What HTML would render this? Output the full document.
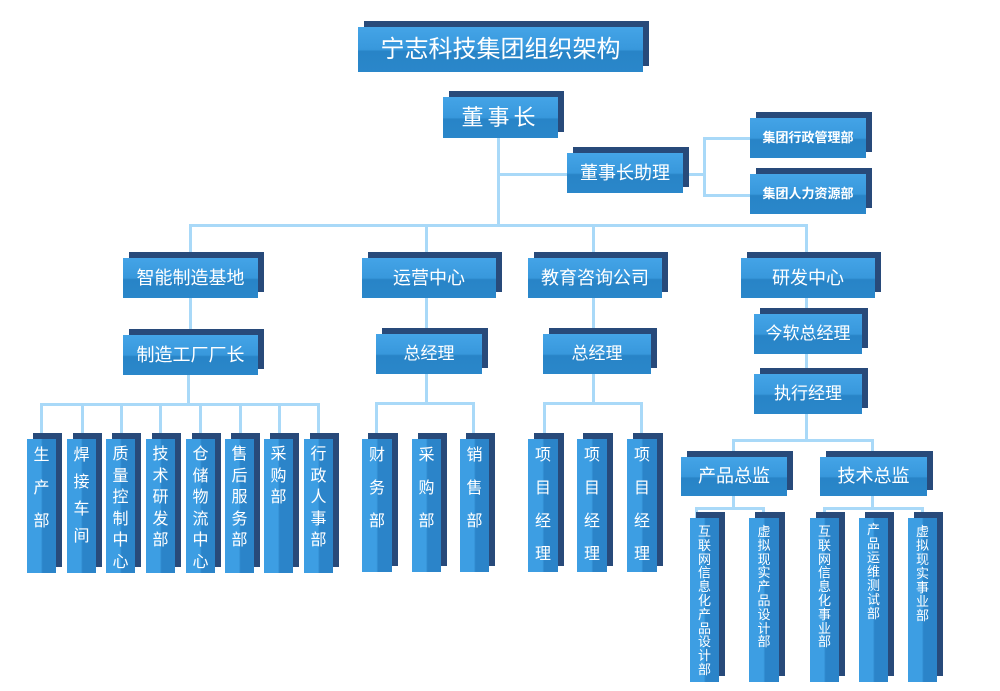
<!DOCTYPE html>
<html><head><meta charset="utf-8"><style>
body{margin:0;width:1000px;height:691px;background:#fff;position:relative;overflow:hidden;font-family:"Liberation Sans","Noto Sans CJK SC",sans-serif;}
.s{position:absolute;background:#284a7a;}
.f{position:absolute;color:#fff;text-align:center;white-space:nowrap;background:linear-gradient(#44a4e7 0%,#3898dc 50%,#2884c7 54%,#2a87ca 100%);}
.v{position:absolute;color:#fff;text-align:center;background:linear-gradient(90deg,#3d9ee3 0%,#3d9ee3 48%,#2b84c9 54%,#2b84c9 100%);font-size:16px;}
.l{position:absolute;background:#a9d9f8;}
</style></head><body>
<!-- connectors -->
<div class="l" style="left:497px;top:138px;width:3px;height:88px"></div>
<div class="l" style="left:498px;top:173px;width:70px;height:3px"></div>
<div class="l" style="left:683px;top:173px;width:22px;height:3px"></div>
<div class="l" style="left:703px;top:138px;width:3px;height:59px"></div>
<div class="l" style="left:703px;top:137px;width:48px;height:3px"></div>
<div class="l" style="left:703px;top:194px;width:48px;height:3px"></div>
<div class="l" style="left:189px;top:224px;width:619px;height:3px"></div>
<div class="l" style="left:189px;top:224px;width:3px;height:112px"></div>
<div class="l" style="left:425px;top:224px;width:3px;height:112px"></div>
<div class="l" style="left:592px;top:224px;width:3px;height:112px"></div>
<div class="l" style="left:805px;top:224px;width:3px;height:217px"></div>
<div class="l" style="left:187px;top:375px;width:3px;height:30px"></div>
<div class="l" style="left:40px;top:403px;width:280px;height:3px"></div>
<div class="l" style="left:425px;top:374px;width:3px;height:30px"></div>
<div class="l" style="left:375px;top:402px;width:100px;height:3px"></div>
<div class="l" style="left:592px;top:374px;width:3px;height:30px"></div>
<div class="l" style="left:543px;top:402px;width:100px;height:3px"></div>
<div class="l" style="left:732px;top:439px;width:142px;height:3px"></div>
<div class="l" style="left:732px;top:439px;width:3px;height:18px"></div>
<div class="l" style="left:871px;top:439px;width:3px;height:18px"></div>
<div class="l" style="left:732px;top:496px;width:3px;height:13px"></div>
<div class="l" style="left:695px;top:507px;width:70px;height:3px"></div>
<div class="l" style="left:871px;top:496px;width:3px;height:13px"></div>
<div class="l" style="left:823px;top:507px;width:101px;height:3px"></div>
<!-- drops -->
<div class="l" style="left:40px;top:403px;width:3px;height:36px"></div>
<div class="l" style="left:81px;top:403px;width:3px;height:36px"></div>
<div class="l" style="left:120px;top:403px;width:3px;height:36px"></div>
<div class="l" style="left:159px;top:403px;width:3px;height:36px"></div>
<div class="l" style="left:199px;top:403px;width:3px;height:36px"></div>
<div class="l" style="left:239px;top:403px;width:3px;height:36px"></div>
<div class="l" style="left:278px;top:403px;width:3px;height:36px"></div>
<div class="l" style="left:317px;top:403px;width:3px;height:36px"></div>
<div class="l" style="left:375px;top:402px;width:3px;height:37px"></div>
<div class="l" style="left:472px;top:402px;width:3px;height:37px"></div>
<div class="l" style="left:543px;top:402px;width:3px;height:37px"></div>
<div class="l" style="left:640px;top:402px;width:3px;height:37px"></div>
<div class="l" style="left:695px;top:507px;width:3px;height:12px"></div>
<div class="l" style="left:762px;top:507px;width:3px;height:12px"></div>
<div class="l" style="left:823px;top:507px;width:3px;height:12px"></div>
<div class="l" style="left:921px;top:507px;width:3px;height:12px"></div>

<!-- title -->
<div class="s" style="left:364px;top:21px;width:285px;height:45px"></div>
<div class="f" style="left:358px;top:27px;width:285px;height:45px;line-height:45px;font-size:24px">宁志科技集团组织架构</div>
<div class="s" style="left:449px;top:91px;width:115px;height:41px"></div>
<div class="f" style="left:443px;top:97px;width:115px;height:41px;line-height:41px;font-size:22px;letter-spacing:4px">董事长</div>
<div class="s" style="left:573px;top:147px;width:116px;height:40px"></div>
<div class="f" style="left:567px;top:153px;width:116px;height:40px;line-height:40px;font-size:18px">董事长助理</div>
<div class="s" style="left:756px;top:112px;width:116px;height:40px"></div>
<div class="f" style="left:750px;top:118px;width:116px;height:40px;line-height:40px;font-size:13px;font-weight:bold">集团行政管理部</div>
<div class="s" style="left:756px;top:168px;width:116px;height:40px"></div>
<div class="f" style="left:750px;top:174px;width:116px;height:40px;line-height:40px;font-size:13px;font-weight:bold">集团人力资源部</div>

<!-- level 1 -->
<div class="s" style="left:129px;top:252px;width:135px;height:40px"></div>
<div class="f" style="left:123px;top:258px;width:135px;height:40px;line-height:40px;font-size:18px">智能制造基地</div>
<div class="s" style="left:368px;top:252px;width:134px;height:40px"></div>
<div class="f" style="left:362px;top:258px;width:134px;height:40px;line-height:40px;font-size:18px">运营中心</div>
<div class="s" style="left:534px;top:252px;width:134px;height:40px"></div>
<div class="f" style="left:528px;top:258px;width:134px;height:40px;line-height:40px;font-size:18px">教育咨询公司</div>
<div class="s" style="left:747px;top:252px;width:134px;height:40px"></div>
<div class="f" style="left:741px;top:258px;width:134px;height:40px;line-height:40px;font-size:18px">研发中心</div>

<!-- level 2 -->
<div class="s" style="left:129px;top:329px;width:135px;height:40px"></div>
<div class="f" style="left:123px;top:335px;width:135px;height:40px;line-height:40px;font-size:18px">制造工厂厂长</div>
<div class="s" style="left:382px;top:328px;width:106px;height:40px"></div>
<div class="f" style="left:376px;top:334px;width:106px;height:40px;line-height:40px;font-size:17px">总经理</div>
<div class="s" style="left:549px;top:328px;width:108px;height:40px"></div>
<div class="f" style="left:543px;top:334px;width:108px;height:40px;line-height:40px;font-size:17px">总经理</div>
<div class="s" style="left:760px;top:308px;width:108px;height:40px"></div>
<div class="f" style="left:754px;top:314px;width:108px;height:40px;line-height:40px;font-size:17px">今软总经理</div>
<div class="s" style="left:760px;top:368px;width:108px;height:40px"></div>
<div class="f" style="left:754px;top:374px;width:108px;height:40px;line-height:40px;font-size:17px">执行经理</div>
<div class="s" style="left:687px;top:451px;width:106px;height:39px"></div>
<div class="f" style="left:681px;top:457px;width:106px;height:39px;line-height:39px;font-size:18px">产品总监</div>
<div class="s" style="left:826px;top:451px;width:107px;height:39px"></div>
<div class="f" style="left:820px;top:457px;width:107px;height:39px;line-height:39px;font-size:18px">技术总监</div>

<!-- left verticals -->
<div class="s" style="left:33px;top:433px;width:29px;height:134px"></div>
<div class="v" style="left:27px;top:439px;width:29px;height:134px;line-height:33px;box-sizing:border-box">生<br>产<br>部</div>
<div class="s" style="left:73px;top:433px;width:29px;height:134px"></div>
<div class="v" style="left:67px;top:439px;width:29px;height:134px;line-height:27px;padding-top:3px;box-sizing:border-box">焊<br>接<br>车<br>间</div>
<div class="s" style="left:112px;top:433px;width:29px;height:134px"></div>
<div class="v" style="left:106px;top:439px;width:29px;height:134px;line-height:21.5px;padding-top:5px;box-sizing:border-box">质<br>量<br>控<br>制<br>中<br>心</div>
<div class="s" style="left:152px;top:433px;width:29px;height:134px"></div>
<div class="v" style="left:146px;top:439px;width:29px;height:134px;line-height:21.5px;padding-top:5px;box-sizing:border-box">技<br>术<br>研<br>发<br>部</div>
<div class="s" style="left:192px;top:433px;width:29px;height:134px"></div>
<div class="v" style="left:186px;top:439px;width:29px;height:134px;line-height:21.5px;padding-top:5px;box-sizing:border-box">仓<br>储<br>物<br>流<br>中<br>心</div>
<div class="s" style="left:231px;top:433px;width:29px;height:134px"></div>
<div class="v" style="left:225px;top:439px;width:29px;height:134px;line-height:21.5px;padding-top:5px;box-sizing:border-box">售<br>后<br>服<br>务<br>部</div>
<div class="s" style="left:270px;top:433px;width:29px;height:134px"></div>
<div class="v" style="left:264px;top:439px;width:29px;height:134px;line-height:21.5px;padding-top:5px;box-sizing:border-box">采<br>购<br>部</div>
<div class="s" style="left:310px;top:433px;width:29px;height:134px"></div>
<div class="v" style="left:304px;top:439px;width:29px;height:134px;line-height:21.5px;padding-top:5px;box-sizing:border-box">行<br>政<br>人<br>事<br>部</div>

<!-- middle verticals -->
<div class="s" style="left:368px;top:433px;width:30px;height:133px"></div>
<div class="v" style="left:362px;top:439px;width:30px;height:133px;line-height:33px;box-sizing:border-box">财<br>务<br>部</div>
<div class="s" style="left:418px;top:433px;width:29px;height:133px"></div>
<div class="v" style="left:412px;top:439px;width:29px;height:133px;line-height:33px;box-sizing:border-box">采<br>购<br>部</div>
<div class="s" style="left:466px;top:433px;width:29px;height:133px"></div>
<div class="v" style="left:460px;top:439px;width:29px;height:133px;line-height:33px;box-sizing:border-box">销<br>售<br>部</div>
<div class="s" style="left:534px;top:433px;width:30px;height:133px"></div>
<div class="v" style="left:528px;top:439px;width:30px;height:133px;line-height:33px;box-sizing:border-box">项<br>目<br>经<br>理</div>
<div class="s" style="left:583px;top:433px;width:30px;height:133px"></div>
<div class="v" style="left:577px;top:439px;width:30px;height:133px;line-height:33px;box-sizing:border-box">项<br>目<br>经<br>理</div>
<div class="s" style="left:633px;top:433px;width:30px;height:133px"></div>
<div class="v" style="left:627px;top:439px;width:30px;height:133px;line-height:33px;box-sizing:border-box">项<br>目<br>经<br>理</div>

<!-- right verticals -->
<div class="s" style="left:696px;top:512px;width:29px;height:164px"></div>
<div class="v" style="left:690px;top:518px;width:29px;height:164px;font-size:13px;line-height:13.8px;padding-top:7px;box-sizing:border-box;overflow:hidden">互<br>联<br>网<br>信<br>息<br>化<br>产<br>品<br>设<br>计<br>部</div>
<div class="s" style="left:755px;top:512px;width:30px;height:164px"></div>
<div class="v" style="left:749px;top:518px;width:30px;height:164px;font-size:13px;line-height:13.8px;padding-top:7px;box-sizing:border-box">虚<br>拟<br>现<br>实<br>产<br>品<br>设<br>计<br>部</div>
<div class="s" style="left:816px;top:512px;width:29px;height:164px"></div>
<div class="v" style="left:810px;top:518px;width:29px;height:164px;font-size:13px;line-height:13.8px;padding-top:7px;box-sizing:border-box">互<br>联<br>网<br>信<br>息<br>化<br>事<br>业<br>部</div>
<div class="s" style="left:865px;top:512px;width:29px;height:164px"></div>
<div class="v" style="left:859px;top:518px;width:29px;height:164px;font-size:13px;line-height:14px;padding-top:5px;box-sizing:border-box">产<br>品<br>运<br>维<br>测<br>试<br>部</div>
<div class="s" style="left:914px;top:512px;width:29px;height:164px"></div>
<div class="v" style="left:908px;top:518px;width:29px;height:164px;font-size:13px;line-height:14px;padding-top:7px;box-sizing:border-box">虚<br>拟<br>现<br>实<br>事<br>业<br>部</div>
</body></html>
